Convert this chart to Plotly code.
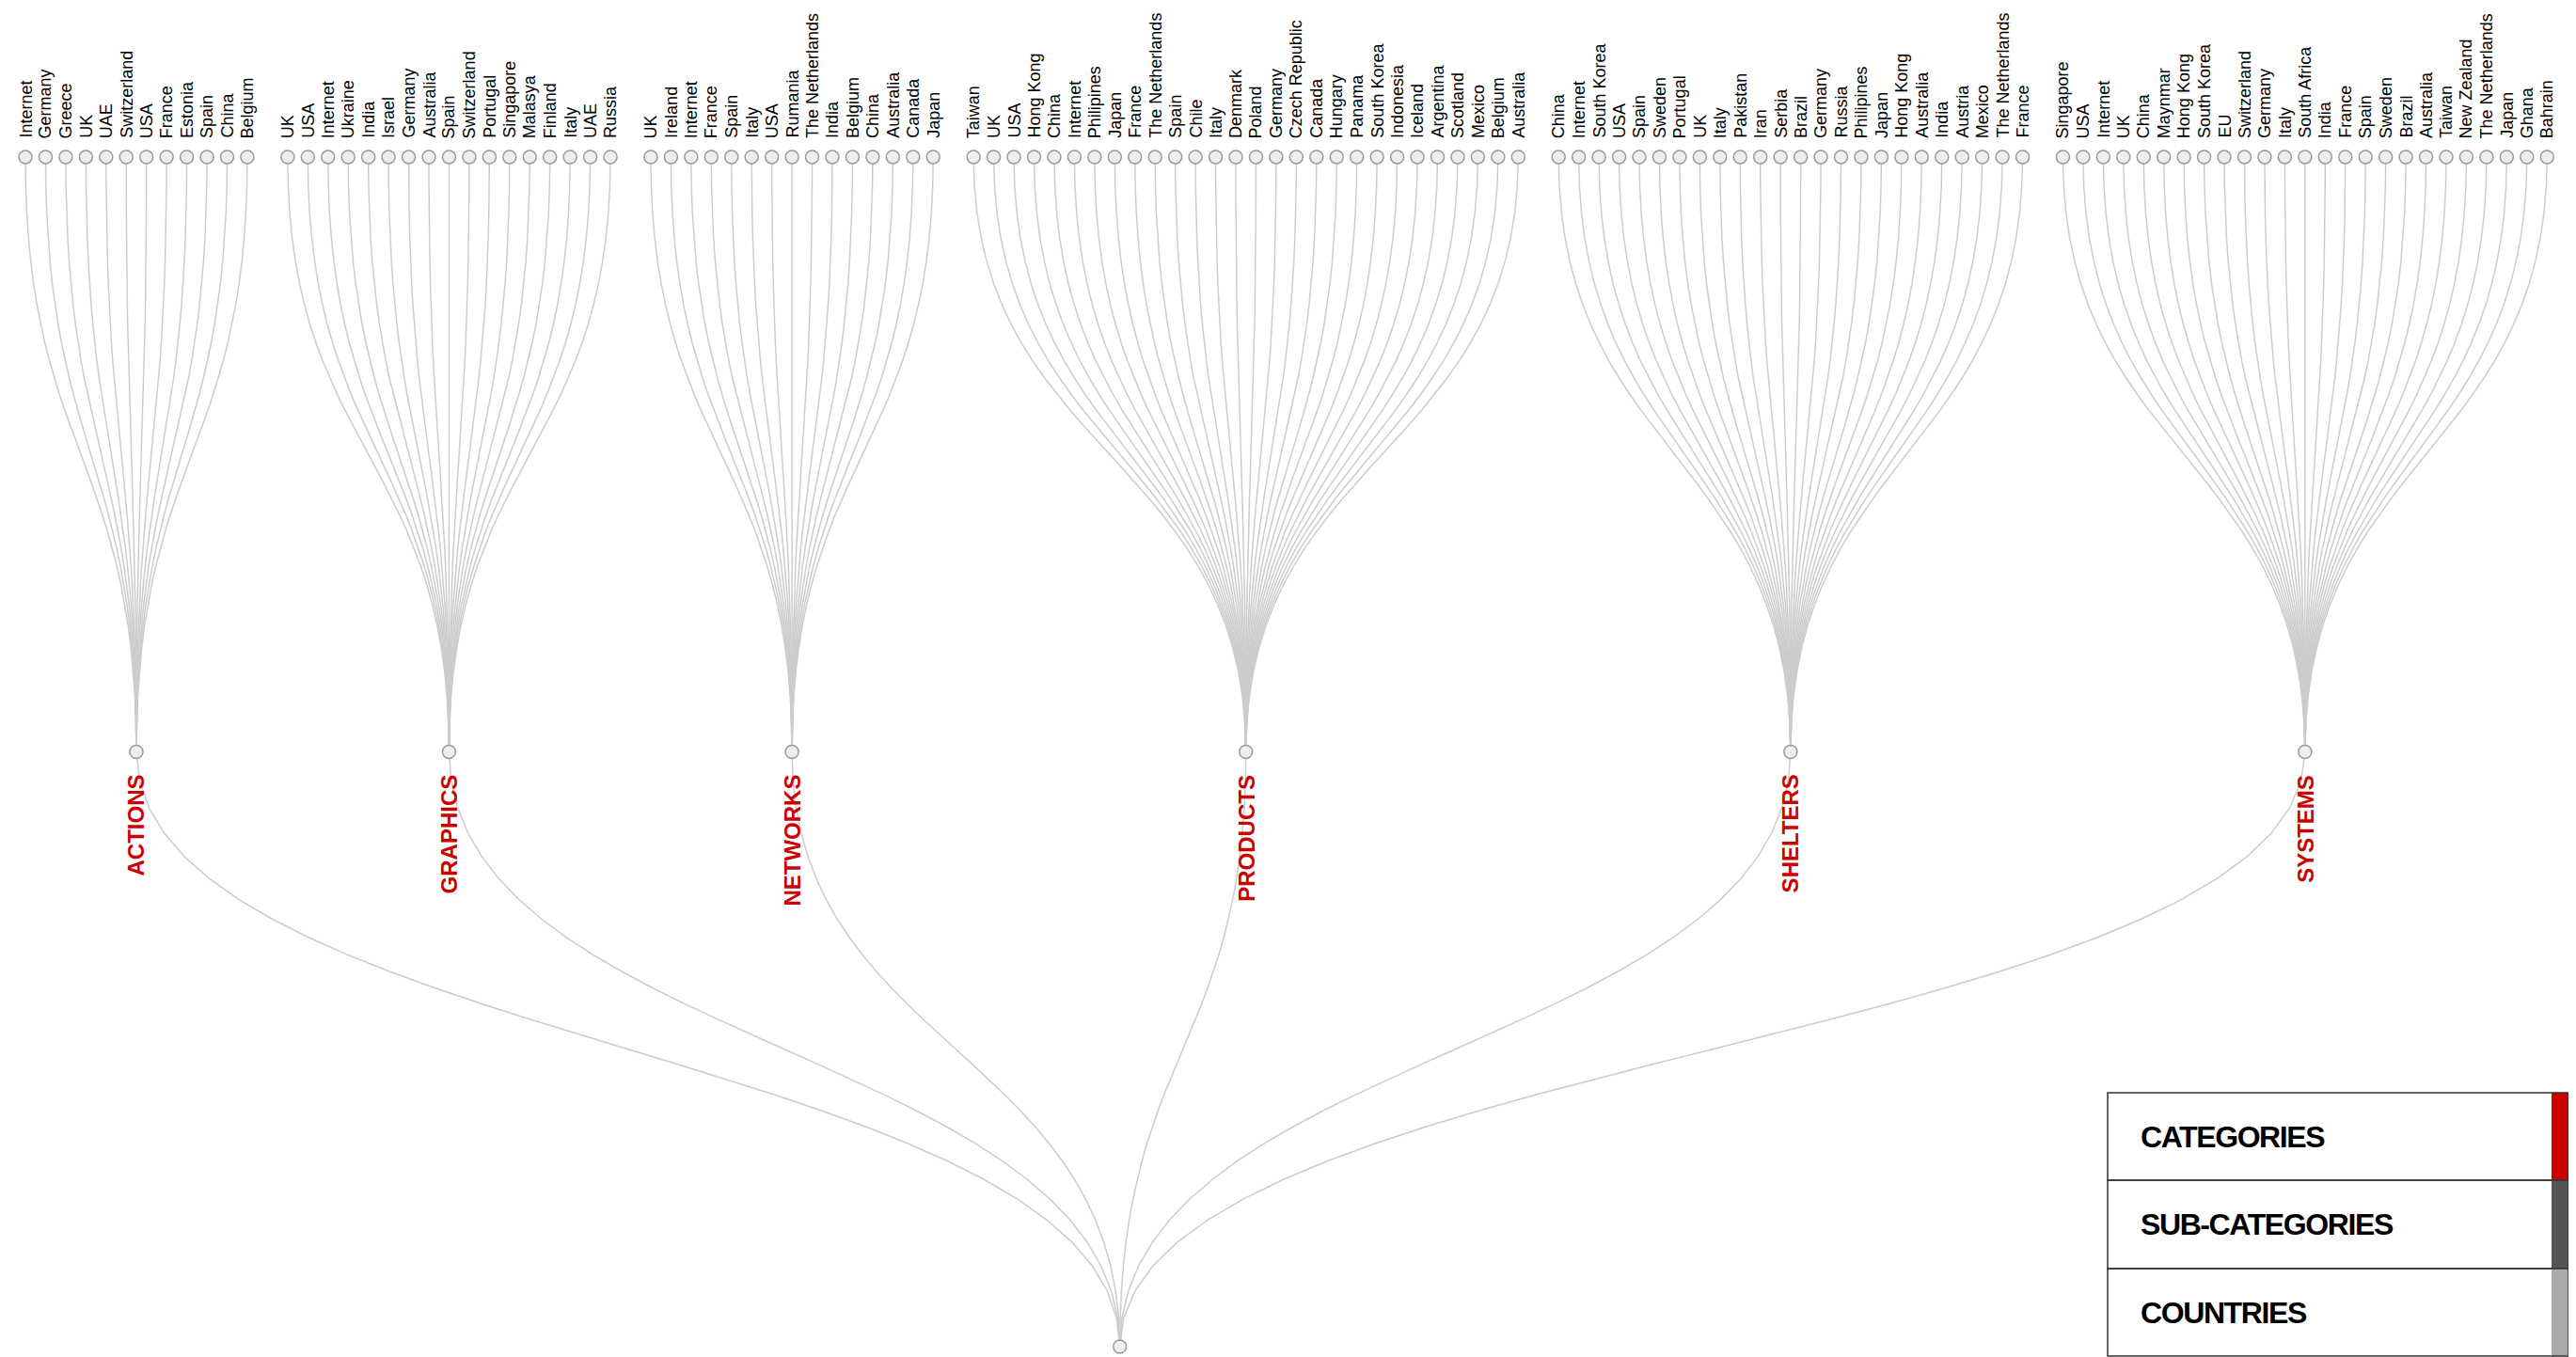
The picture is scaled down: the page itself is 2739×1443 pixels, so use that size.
import plotly.graph_objects as go

# the page body keeps its default 8px margin, so the figure is drawn 8px in
PAGE_W = 2739
PAGE_H = 1443
OFF = 8
WIDTH = PAGE_W - OFF
HEIGHT = PAGE_H - OFF

categories = ['ACTIONS', 'GRAPHICS', 'NETWORKS', 'PRODUCTS', 'SHELTERS', 'SYSTEMS']

actions = ['Internet', 'Germany', 'Greece', 'UK', 'UAE', 'Switzerland', 'USA', 'France',
           'Estonia', 'Spain', 'China', 'Belgium']
graphics = ['UK', 'USA', 'Internet', 'Ukraine', 'India', 'Israel', 'Germany', 'Australia',
            'Spain', 'Switzerland', 'Portugal', 'Singapore', 'Malasya', 'Finland', 'Italy',
            'UAE', 'Russia']
networks = ['UK', 'Ireland', 'Internet', 'France', 'Spain', 'Italy', 'USA', 'Rumania',
            'The Netherlands', 'India', 'Belgium', 'China', 'Australia', 'Canada', 'Japan']
products = ['Taiwan', 'UK', 'USA', 'Hong Kong', 'China', 'Internet', 'Philipines', 'Japan',
            'France', 'The Netherlands', 'Spain', 'Chile', 'Italy', 'Denmark', 'Poland',
            'Germany', 'Czech Republic', 'Canada', 'Hungary', 'Panama', 'South Korea',
            'Indonesia', 'Iceland', 'Argentina', 'Scotland', 'Mexico', 'Belgium', 'Australia']
shelters = ['China', 'Internet', 'South Korea', 'USA', 'Spain', 'Sweden', 'Portugal', 'UK',
            'Italy', 'Pakistan', 'Iran', 'Serbia', 'Brazil', 'Germany', 'Russia', 'Philipines',
            'Japan', 'Hong Kong', 'Australia', 'India', 'Austria', 'Mexico', 'The Netherlands',
            'France']
systems = ['Singapore', 'USA', 'Internet', 'UK', 'China', 'Maynmar', 'Hong Kong', 'South Korea',
           'EU', 'Switzerland', 'Germany', 'Italy', 'South Africa', 'India', 'France', 'Spain',
           'Sweden', 'Brazil', 'Australia', 'Taiwan', 'New Zealand', 'The Netherlands', 'Japan',
           'Ghana', 'Bahrain']

children = [actions, graphics, networks, products, shelters, systems]

legend_labels = ['CATEGORIES', 'SUB-CATEGORIES', 'COUNTRIES']
legend_colors = ['#cc0000', '#555555', '#aaaaaa']

RED = '#cc0000'
LINK = '#cccccc'
FONT = 'Liberation Sans, Arial, sans-serif'


def link(x0, y0, x1, y1, n=30):
    '''vertical bezier link, like d3.linkVertical'''
    ym = (y0 + y1) / 2
    xs, ys = [], []
    for i in range(n + 1):
        t = i / n
        a, b, c, d = (1 - t) ** 3, 3 * (1 - t) ** 2 * t, 3 * (1 - t) * t ** 2, t ** 3
        xs.append(a * x0 + b * x0 + c * x1 + d * x1)
        ys.append(a * y0 + b * ym + c * ym + d * y1)
    xs.append(None)
    ys.append(None)
    return xs, ys


# tree layout: leaves one unit apart, two units between groups, depth 0..2
leaf_x, leaf_txt = [], []
cat_x = []
u = 0
for g, kids in enumerate(children):
    if g > 0:
        u += 1
    xs = []
    for k in kids:
        xs.append(u)
        leaf_txt.append(k)
        u += 1
    leaf_x.append(xs)
    cat_x.append((xs[0] + xs[-1]) / 2)
root_x = sum(cat_x) / len(cat_x)

lx, ly = [], []
for g in range(len(categories)):
    xs, ys = link(root_x, 0, cat_x[g], 1)
    lx += xs
    ly += ys
    for x in leaf_x[g]:
        xs, ys = link(cat_x[g], 1, x, 2)
        lx += xs
        ly += ys

fig = go.Figure()
fig.add_trace(go.Scatter(x=lx, y=ly, mode='lines', line=dict(color=LINK, width=1.5),
                         hoverinfo='skip'))

all_leaf_x = [x for xs in leaf_x for x in xs]
node_x = [root_x] + cat_x + all_leaf_x
node_y = [0] + [1] * len(cat_x) + [2] * len(all_leaf_x)
fig.add_trace(go.Scatter(x=node_x, y=node_y, mode='markers',
                         marker=dict(size=14, color='#eeeeee',
                                     line=dict(color='#999999', width=1.5)),
                         hoverinfo='skip'))

annotations = []
for x, t in zip(all_leaf_x, leaf_txt):
    annotations.append(dict(x=x, y=2, text=t, showarrow=False, textangle=-90,
                            xanchor='center', yanchor='bottom', yshift=18,
                            font=dict(family=FONT, size=18, color='black')))
for x, t in zip(cat_x, categories):
    annotations.append(dict(x=x, y=1, text='<b>' + t + '</b>', showarrow=False, textangle=-90,
                            xanchor='center', yanchor='top', yshift=-22,
                            font=dict(family=FONT, size=24, color=RED)))

# legend box, bottom right (page pixels)
shapes = []
bx0, bx1, sx0 = (2241 - OFF) / WIDTH, (2731 - OFF) / WIDTH, (2713 - OFF) / WIDTH
rows = [1162, 1255, 1349, 1442]
for i, (lab, col) in enumerate(zip(legend_labels, legend_colors)):
    y_top = 1 - (rows[i] - OFF) / HEIGHT
    y_bot = 1 - (rows[i + 1] - OFF) / HEIGHT
    shapes.append(dict(type='rect', xref='paper', yref='paper', x0=sx0, x1=bx1,
                       y0=y_bot, y1=y_top, fillcolor=col, line=dict(width=0)))
    shapes.append(dict(type='rect', xref='paper', yref='paper', x0=bx0, x1=bx1,
                       y0=y_bot, y1=y_top, line=dict(color='#333333', width=1.5)))
    annotations.append(dict(xref='paper', yref='paper', x=(2274 - OFF) / WIDTH,
                            y=(y_top + y_bot) / 2,
                            text='<b><span style="letter-spacing:-1.4px">' + lab + '</span></b>',
                            showarrow=False, xanchor='left', yanchor='middle',
                            font=dict(family=FONT, size=32, color='black')))

# map tree units onto the page
px0, step = 27 - OFF, 21.45
y_root, y_gap = 1432 - OFF, 632.5
fig.update_xaxes(range=[-px0 / step, (WIDTH - px0) / step], visible=False)
fig.update_yaxes(range=[(y_root - HEIGHT) / y_gap, y_root / y_gap], visible=False)

fig.update_layout(width=WIDTH, height=HEIGHT, margin=dict(l=0, r=0, t=0, b=0),
                  paper_bgcolor='white', plot_bgcolor='white', showlegend=False,
                  hovermode=False, annotations=annotations, shapes=shapes)
fig.write_html('out.html')
